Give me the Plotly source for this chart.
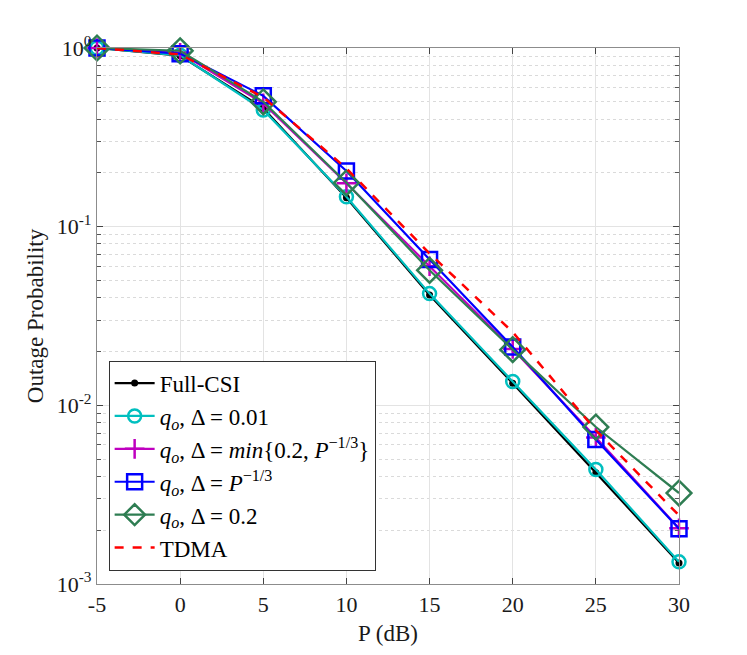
import plotly.graph_objects as go

P_dB = [-5, 0, 5, 10, 15, 20, 25, 30]
full_csi = [1.0, 0.905, 0.46, 0.145, 0.0415, 0.0133, 0.0042, 0.00131]
q_001 = [1.0, 0.91, 0.45, 0.147, 0.0422, 0.0136, 0.00437, 0.00133]
q_min = [1.0, 0.94, 0.49, 0.175, 0.060, 0.0207, 0.0066, 0.00205]
q_p13 = [1.0, 0.93, 0.54, 0.205, 0.0655, 0.0212, 0.00643, 0.00204]
q_02 = [1.0, 0.965, 0.50, 0.176, 0.057, 0.0205, 0.00756, 0.00323]
tdma = [1.0, 0.92, 0.53, 0.212, 0.0708, 0.0257, 0.00724, 0.00242]

y_ticks = [1e-3, 1e-2, 1e-1, 1]
y_ticktext = ["10<sup>-3</sup>", "10<sup>-2</sup>", "10<sup>-1</sup>", "10<sup>0</sup>"]
y_minor = [m * 10**e for e in (-3, -2, -1) for m in range(2, 10)]
x_ticks = [-5, 0, 5, 10, 15, 20, 25, 30]

FONT = "Liberation Serif, Times New Roman, serif"
qo = "<i>q<sub>o</sub></i>, Δ = "

fig = go.Figure()
fig.add_trace(go.Scatter(x=P_dB, y=full_csi, name="Full-CSI", mode="lines+markers", cliponaxis=False,
                         line=dict(color="black", width=2.2),
                         marker=dict(symbol="circle", size=7, color="black")))
fig.add_trace(go.Scatter(x=P_dB, y=q_001, name=qo + "0.01", mode="lines+markers", cliponaxis=False,
                         line=dict(color="#00bfbf", width=2.2),
                         marker=dict(symbol="circle-open", size=13, color="#00bfbf",
                                     line=dict(width=2.5))))
fig.add_trace(go.Scatter(x=P_dB, y=q_min, name=qo + "<i>min</i>{0.2, <i>P</i><sup>−1/3</sup>}",
                         mode="lines+markers", cliponaxis=False,
                         line=dict(color="#bf00bf", width=2.2),
                         marker=dict(symbol="cross-thin-open", size=14, color="#bf00bf",
                                     line=dict(width=2.5, color="#bf00bf"))))
fig.add_trace(go.Scatter(x=P_dB, y=q_p13, name=qo + "<i>P</i><sup>−1/3</sup>", mode="lines+markers",
                         cliponaxis=False,
                         line=dict(color="#0000ff", width=2.2),
                         marker=dict(symbol="square-open", size=15, color="#0000ff",
                                     line=dict(width=2.5))))
fig.add_trace(go.Scatter(x=P_dB, y=q_02, name=qo + "0.2", mode="lines+markers", cliponaxis=False,
                         line=dict(color="#2e7d52", width=2.2),
                         marker=dict(symbol="diamond-open", size=19, color="#2e7d52",
                                     line=dict(width=2.5))))
fig.add_trace(go.Scatter(x=P_dB, y=tdma, name="TDMA", mode="lines", cliponaxis=False,
                         line=dict(color="#ff0000", width=2.5, dash="dash")))

axis_common = dict(showline=True, linecolor="#8c8c8c", linewidth=1.2, mirror="ticks",
                   ticks="inside", tickcolor="#444444", ticklen=6, automargin=False,
                   showgrid=True, gridcolor="#e3e3e3", gridwidth=1, zeroline=False,
                   tickfont=dict(family=FONT, size=22, color="#1a1a1a"))

fig.update_xaxes(range=[-5, 30], tickvals=x_ticks, ticktext=[str(v) for v in x_ticks],
                 title=dict(text="P (dB)", font=dict(family=FONT, size=23, color="#1a1a1a"), standoff=9),
                 **axis_common)
fig.update_yaxes(type="log", range=[-3, 0], tickvals=y_ticks, ticktext=y_ticktext,
                 title=dict(text="Outage Probability", font=dict(family=FONT, size=23, color="#1a1a1a"), standoff=6),
                 minor=dict(tickvals=y_minor, ticks="inside", ticklen=4, tickcolor="#555555",
                            showgrid=True, gridcolor="#dadada", griddash="dot", gridwidth=1),
                 **axis_common)

fig.update_layout(
    width=739, height=647,
    margin=dict(l=89, r=68, t=40, b=71),
    paper_bgcolor="white", plot_bgcolor="white",
    font=dict(family=FONT, size=22, color="black"),
    showlegend=True,
    legend=dict(x=0.02, y=0.025, xanchor="left", yanchor="bottom",
                bgcolor="white", bordercolor="#333333", borderwidth=1,
                font=dict(family=FONT, size=23, color="black"),
                tracegroupgap=0, itemwidth=40),
)

fig.write_html("out.html")
